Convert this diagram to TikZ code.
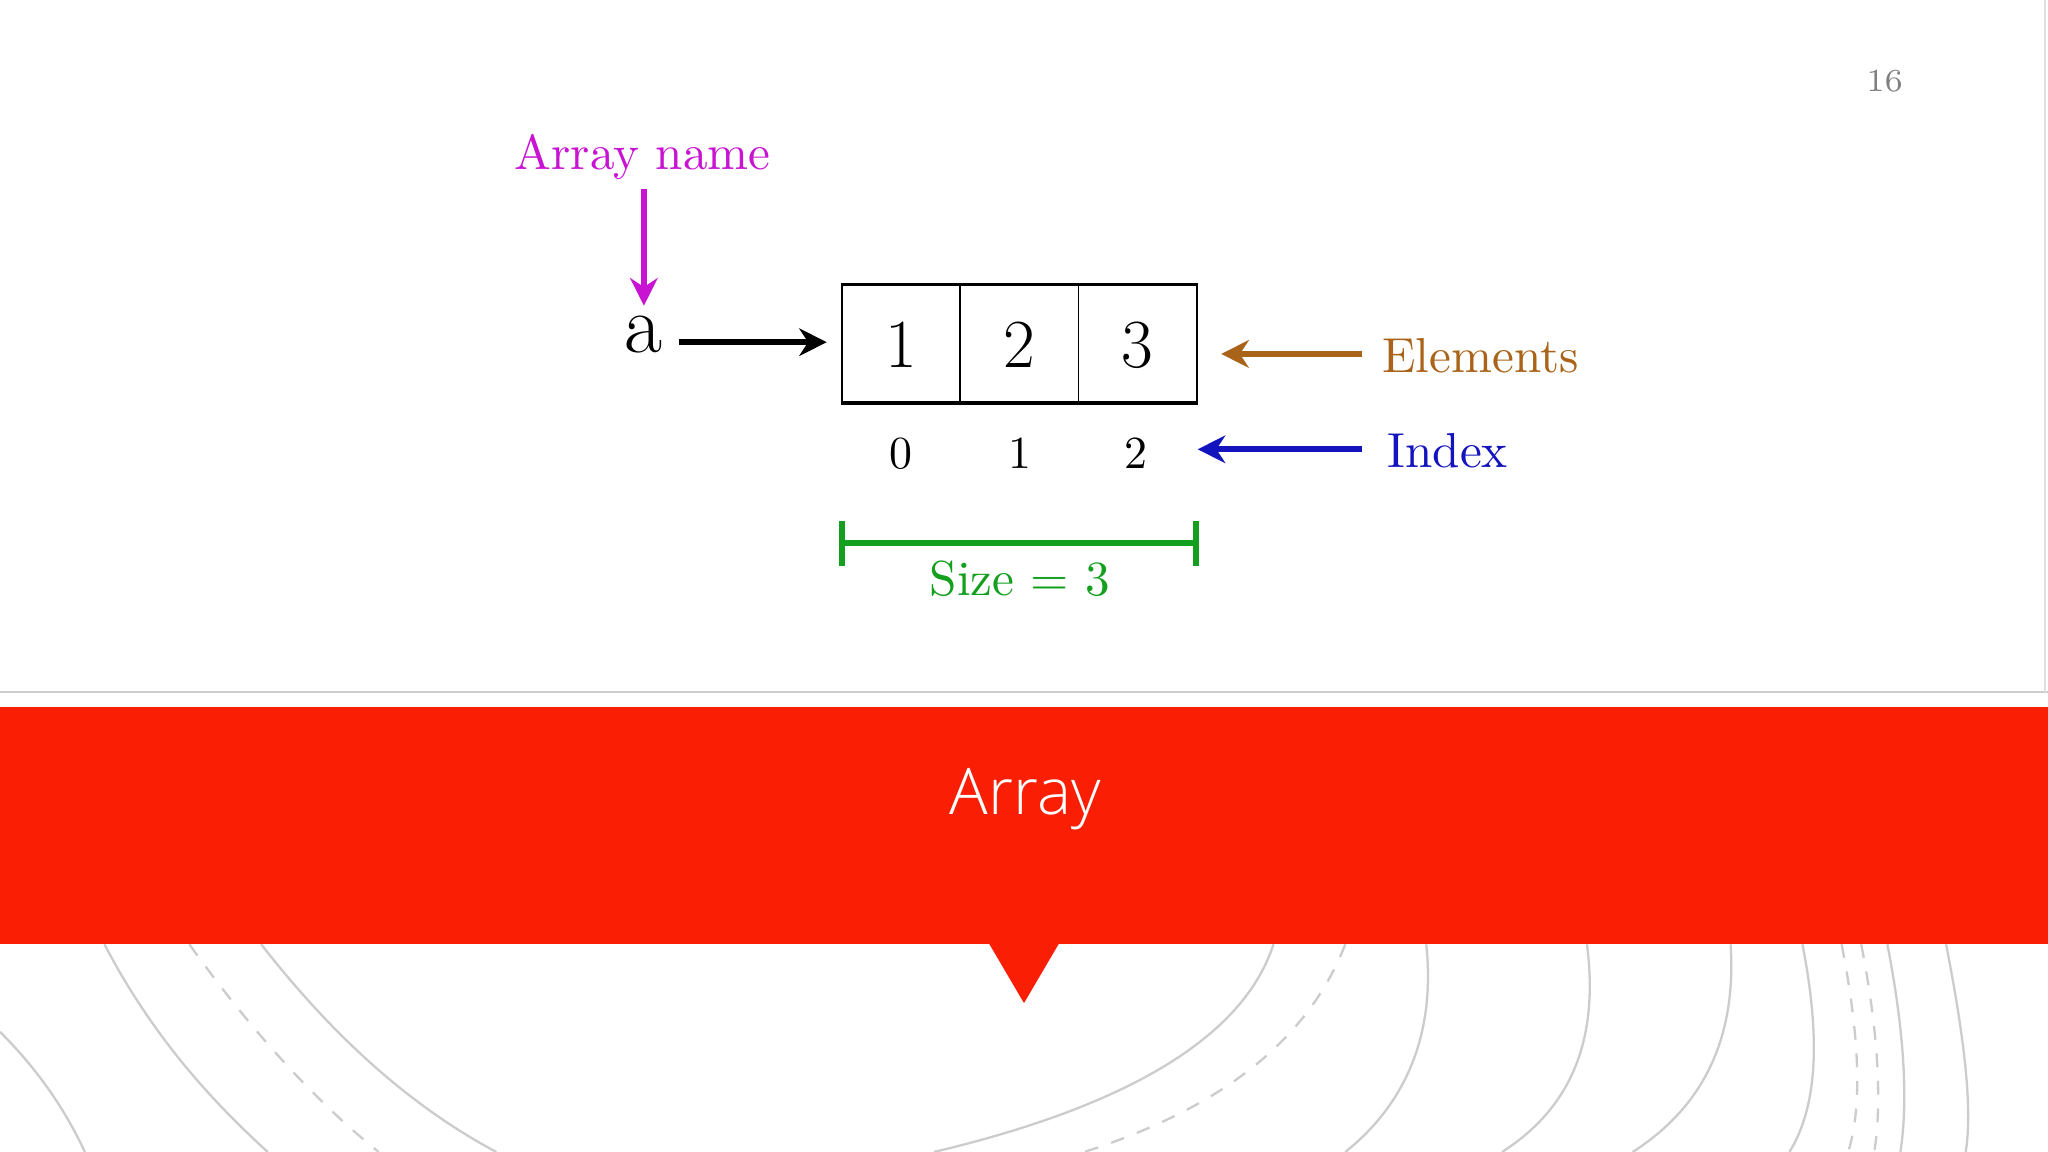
\documentclass[tikz,border=0pt]{standalone}
\usepackage{fontspec}
\newfontfamily\bandfont{Open Sans Light}
\usetikzlibrary{arrows.meta}
\definecolor{mag}{RGB}{200,20,210}
\definecolor{brn}{RGB}{170,100,25}
\definecolor{blu}{RGB}{20,20,190}
\definecolor{grn}{RGB}{20,160,30}
\definecolor{band}{RGB}{250,30,5}
\tikzset{cell/.style={draw,minimum width=0.905cm,minimum height=0.91cm,inner sep=0,font=\fontsize{15}{15}\selectfont},
 arr/.style={-{Stealth[length=6pt,width=6pt]},line width=1.3pt},
 lab/.style={font=\fontsize{10.7}{11}\selectfont},
 bgl/.style={gray!40,line width=0.5pt}}
\begin{document}
\begin{tikzpicture}[x=0.01cm,y=-0.01cm]
\useasboundingbox (0,0) rectangle (1568,882);
\fill[white] (0,0) rectangle (1568,882);
% background lines
\draw[bgl] (80,723) .. controls (120,800) and (170,850) .. (205,882);
\draw[bgl,dashed] (145,723) .. controls (200,800) and (250,850) .. (290,882);
\draw[bgl] (200,723) .. controls (260,800) and (320,850) .. (380,882);
\draw[bgl] (0,790) .. controls (30,820) and (50,850) .. (65,882);
\draw[bgl] (975,723) .. controls (950,800) and (850,850) .. (715,882);
\draw[bgl,dashed] (1030,723) .. controls (1000,800) and (930,850) .. (830,882);
\draw[bgl] (1092,723) .. controls (1100,800) and (1070,850) .. (1030,882);
\draw[bgl] (1215,723) .. controls (1225,800) and (1200,850) .. (1150,882);
\draw[bgl] (1325,723) .. controls (1330,800) and (1300,850) .. (1250,882);
\draw[bgl] (1380,723) .. controls (1395,800) and (1390,850) .. (1370,882);
\draw[bgl,dashed] (1410,723) .. controls (1425,800) and (1425,850) .. (1415,882);
\draw[bgl,dashed] (1425,723) .. controls (1440,800) and (1440,850) .. (1435,882);
\draw[bgl] (1445,723) .. controls (1460,800) and (1460,850) .. (1455,882);
\draw[bgl] (1490,723) .. controls (1505,800) and (1510,850) .. (1505,882);
\draw[gray!40] (0,530) -- (1568,530);
\draw[gray!25] (1566,0) -- (1566,530);
% band
\fill[band] (0,541) rectangle (1568,723);
\fill[band] (757,722) -- (811,722) -- (784,768) -- cycle;
\node[text=white,font=\bandfont\fontsize{14}{14}\selectfont] (title) at (785,612) {Array};
\node[text=gray,font=\fontsize{7}{7}\selectfont] (pg) at (1443,62) {16};
% diagram
\node[text=mag,lab] (an) at (492,120) {Array name};
\node[font=\fontsize{18}{18}\selectfont] (a) at (493,256) {a};
\coordinate (m1) at (493,145); \coordinate (m2) at (493,234);
\draw[arr,mag] (m1) -- (m2);
\node[cell] (c1) at (690,264) {1};
\node[cell] (c2) at (780.5,264) {2};
\node[cell] (c3) at (871,264) {3};
\draw (644.5,217) rectangle (916.5,308);
\coordinate (b1) at (520,262); \coordinate (b2) at (633,262);
\draw[arr] (b1) -- (b2);
\node[text=brn,lab,anchor=west] (el) at (1046,272) {Elements};
\coordinate (e1) at (1043,271); \coordinate (e2) at (935,271);
\draw[arr,brn] (e1) -- (e2);
\node[font=\fontsize{10}{10}\selectfont] (i0) at (690,347) {0};
\node[font=\fontsize{10}{10}\selectfont] (i1) at (781,347) {1};
\node[font=\fontsize{10}{10}\selectfont] (i2) at (870,347) {2};
\node[text=blu,lab,anchor=west] (ix) at (1050,345) {Index};
\coordinate (x1) at (1043,344); \coordinate (x2) at (917,344);
\draw[arr,blu] (x1) -- (x2);
\coordinate (s1) at (645,416); \coordinate (s2) at (916,416);
\draw[grn,line width=1.3pt] (s1) -- (s2) (645,399) -- (645,433) (916,399) -- (916,433);
\node[text=grn,lab] (sz) at (781,443) {Size = 3};
\end{tikzpicture}
\end{document}
